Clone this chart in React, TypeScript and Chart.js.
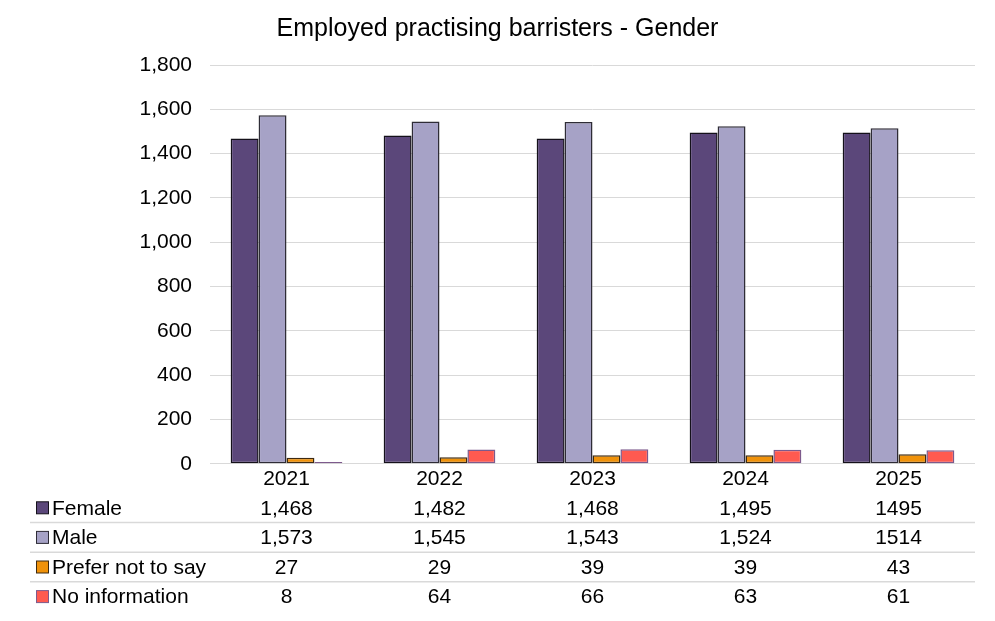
import { useEffect, useRef } from "react";
import { Chart, registerables, Plugin } from "chart.js";

Chart.register(...registerables);

const title = "Employed practising barristers - Gender";
const years = ["2021", "2022", "2023", "2024", "2025"];
const female = [1468, 1482, 1468, 1495, 1495];
const male = [1573, 1545, 1543, 1524, 1514];
const preferNot = [27, 29, 39, 39, 43];
const noInfo = [8, 64, 66, 63, 61];
// the source table prints the last year without thousands separators
const plainYears = ["2025"];
const yTicks = [0, 200, 400, 600, 800, 1000, 1200, 1400, 1600, 1800];

const FONT = "Arial, 'Liberation Sans', sans-serif";

const series = [
  { label: "Female", data: female, color: "#5b477a", border: "#14111a" },
  { label: "Male", data: male, color: "#a6a2c6", border: "#2e2c36" },
  { label: "Prefer not to say", data: preferNot, color: "#f0920a", border: "#3d2a12" },
  { label: "No information", data: noInfo, color: "#ff5a50", border: "#7d5a8c" },
];

const fmt = (v: number, year: string) =>
  plainYears.includes(year) ? String(v) : v.toLocaleString("en-GB");

// title centred on the whole canvas + data table under the x axis
const dataTable: Plugin<"bar"> = {
  id: "dataTable",
  afterDraw(chart) {
    const { ctx, chartArea, width } = chart;
    const xScale = chart.scales.x;
    ctx.save();
    ctx.fillStyle = "#000";
    ctx.font = `25px ${FONT}`;
    ctx.textAlign = "center";
    ctx.textBaseline = "middle";
    ctx.fillText(title, width / 2, 29);

    const rowH = 29.6;
    const first = chartArea.bottom + 44;
    ctx.font = `21px ${FONT}`;
    series.forEach((s, r) => {
      const y = first + r * rowH;
      ctx.fillStyle = s.color;
      ctx.fillRect(36.5, y - 6, 12, 12);
      ctx.strokeStyle = s.border;
      ctx.lineWidth = 1;
      ctx.strokeRect(36.5, y - 6, 12, 12);
      ctx.fillStyle = "#000";
      ctx.textAlign = "left";
      ctx.fillText(s.label, 52, y + 1);
      ctx.textAlign = "center";
      years.forEach((yr, i) => {
        ctx.fillText(fmt(s.data[i], yr), xScale.getPixelForValue(i), y + 1);
      });
      if (r < series.length - 1) {
        ctx.strokeStyle = "#d9d9d9";
        ctx.lineWidth = 1.5;
        ctx.beginPath();
        ctx.moveTo(30, y + rowH / 2);
        ctx.lineTo(chartArea.right, y + rowH / 2);
        ctx.stroke();
      }
    });
    ctx.restore();
  },
};

export default function App() {
  const canvasRef = useRef<HTMLCanvasElement | null>(null);
  const chartInstance = useRef<Chart | null>(null);

  useEffect(() => {
    if (!canvasRef.current) return;
    if (chartInstance.current) chartInstance.current.destroy();

    chartInstance.current = new Chart(canvasRef.current, {
      type: "bar",
      data: {
        labels: years,
        datasets: series.map((s) => ({
          label: s.label,
          data: s.data,
          backgroundColor: s.color,
          borderColor: s.border,
          borderWidth: 1.5,
          borderSkipped: false,
          categoryPercentage: 0.73,
          barPercentage: 1,
        })),
      },
      options: {
        responsive: false,
        animation: false,
        layout: { padding: { top: 65, right: 20, bottom: 126, left: 0 } },
        plugins: {
          legend: { display: false },
          tooltip: { enabled: false },
          title: { display: false },
        },
        scales: {
          x: {
            grid: { display: false, drawTicks: false },
            border: { display: false },
            ticks: { color: "#000", font: { family: FONT, size: 21 }, padding: 3 },
          },
          y: {
            min: 0,
            max: yTicks[yTicks.length - 1],
            afterFit: (scale) => {
              scale.width = 210;
            },
            afterBuildTicks: (scale) => {
              scale.ticks = yTicks.map((v) => ({ value: v }));
            },
            grid: { color: "#d9d9d9", lineWidth: 1, drawTicks: false },
            border: { display: false },
            ticks: {
              color: "#000",
              padding: 18,
              font: { family: FONT, size: 21 },
              callback: (v) => Number(v).toLocaleString("en-GB"),
            },
          },
        },
      },
      plugins: [dataTable],
    });

    return () => {
      chartInstance.current?.destroy();
      chartInstance.current = null;
    };
  }, []);

  return (
    <div style={{ position: "absolute", left: 0, top: 0, width: 995, height: 621, background: "#fff" }}>
      <canvas ref={canvasRef} width={995} height={621} />
    </div>
  );
}
